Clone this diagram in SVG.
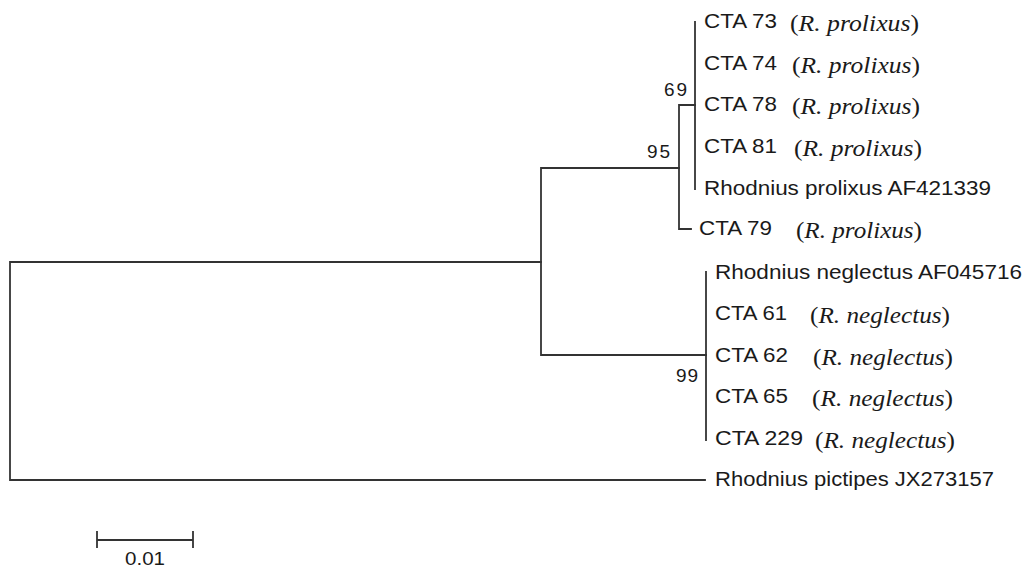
<svg xmlns="http://www.w3.org/2000/svg" width="1027" height="570" viewBox="0 0 1027 570">
  <style>
    .br { fill: none; stroke: #333333; stroke-width: 1.8; stroke-linecap: square; }
    .lb { font-family: "Liberation Sans", Arial, sans-serif; font-size: 19.5px; fill: #1a1a1a; }
    .sp { font-family: "Liberation Serif", "Times New Roman", serif; font-size: 24px; fill: #1a1a1a; }
    .sp tspan.i { font-style: italic; }
    .bs { font-family: "Liberation Sans", Arial, sans-serif; font-size: 19px; fill: #1a1a1a; text-anchor: end; }
  </style>
  <rect width="1027" height="570" fill="#ffffff"/>

  <g id="connectors">
    <!-- root -->
    <path class="br" d="M541,262 H10 V480 H705"/>
    <!-- ingroup node -->
    <path class="br" d="M679,168 H541 V355 H706"/>
    <!-- prolixus clade (95) -->
    <path class="br" d="M695,105 H679 V229 H691"/>
    <!-- prolixus subclade (69) -->
    <path class="br" d="M695,22 V189"/>
    <!-- neglectus clade (99) -->
    <path class="br" d="M706,272 V440"/>
  </g>

  <g id="bootstrap">
    <text class="bs" x="687" y="96" textLength="23" lengthAdjust="spacing">69</text>
    <text class="bs" x="670" y="158" textLength="23" lengthAdjust="spacing">95</text>
    <text class="bs" x="698" y="382" textLength="22" lengthAdjust="spacing">99</text>
  </g>

  <g id="cta73">
    <text class="lb" x="704" y="28" textLength="73" lengthAdjust="spacingAndGlyphs">CTA 73</text>
    <text class="sp" x="790" y="31" textLength="129" lengthAdjust="spacingAndGlyphs">(<tspan class="i">R. prolixus</tspan>)</text>
  </g>
  <g id="cta74">
    <text class="lb" x="704" y="70" textLength="73" lengthAdjust="spacingAndGlyphs">CTA 74</text>
    <text class="sp" x="792" y="73" textLength="128" lengthAdjust="spacingAndGlyphs">(<tspan class="i">R. prolixus</tspan>)</text>
  </g>
  <g id="cta78">
    <text class="lb" x="704" y="111" textLength="73" lengthAdjust="spacingAndGlyphs">CTA 78</text>
    <text class="sp" x="792" y="114" textLength="128" lengthAdjust="spacingAndGlyphs">(<tspan class="i">R. prolixus</tspan>)</text>
  </g>
  <g id="cta81">
    <text class="lb" x="704" y="153" textLength="73" lengthAdjust="spacingAndGlyphs">CTA 81</text>
    <text class="sp" x="794" y="156" textLength="128" lengthAdjust="spacingAndGlyphs">(<tspan class="i">R. prolixus</tspan>)</text>
  </g>
  <g id="rprolixus">
    <text class="lb" x="704" y="195" textLength="287" lengthAdjust="spacingAndGlyphs">Rhodnius prolixus AF421339</text>
  </g>
  <g id="cta79">
    <text class="lb" x="699" y="235" textLength="73" lengthAdjust="spacingAndGlyphs">CTA 79</text>
    <text class="sp" x="796" y="238" textLength="126" lengthAdjust="spacingAndGlyphs">(<tspan class="i">R. prolixus</tspan>)</text>
  </g>

  <g id="rneglectus">
    <text class="lb" x="715" y="279" textLength="307" lengthAdjust="spacingAndGlyphs">Rhodnius neglectus AF045716</text>
  </g>
  <g id="cta61">
    <text class="lb" x="715" y="320" textLength="72" lengthAdjust="spacingAndGlyphs">CTA 61</text>
    <text class="sp" x="810" y="323" textLength="140" lengthAdjust="spacingAndGlyphs">(<tspan class="i">R. neglectus</tspan>)</text>
  </g>
  <g id="cta62">
    <text class="lb" x="715" y="362" textLength="73" lengthAdjust="spacingAndGlyphs">CTA 62</text>
    <text class="sp" x="813" y="365" textLength="140" lengthAdjust="spacingAndGlyphs">(<tspan class="i">R. neglectus</tspan>)</text>
  </g>
  <g id="cta65">
    <text class="lb" x="715" y="403" textLength="73" lengthAdjust="spacingAndGlyphs">CTA 65</text>
    <text class="sp" x="812" y="406" textLength="141" lengthAdjust="spacingAndGlyphs">(<tspan class="i">R. neglectus</tspan>)</text>
  </g>
  <g id="cta229">
    <text class="lb" x="715" y="445" textLength="88" lengthAdjust="spacingAndGlyphs">CTA 229</text>
    <text class="sp" x="815" y="448" textLength="140" lengthAdjust="spacingAndGlyphs">(<tspan class="i">R. neglectus</tspan>)</text>
  </g>
  <g id="rpictipes">
    <text class="lb" x="715" y="486" textLength="279" lengthAdjust="spacingAndGlyphs">Rhodnius pictipes JX273157</text>
  </g>

  <g id="scalebar">
    <path class="br" d="M97,540 H193 M97,532 V547 M193,532 V547"/>
    <text class="lb" x="125" y="565" textLength="40" lengthAdjust="spacingAndGlyphs" style="font-size:18px">0.01</text>
  </g>
</svg>
